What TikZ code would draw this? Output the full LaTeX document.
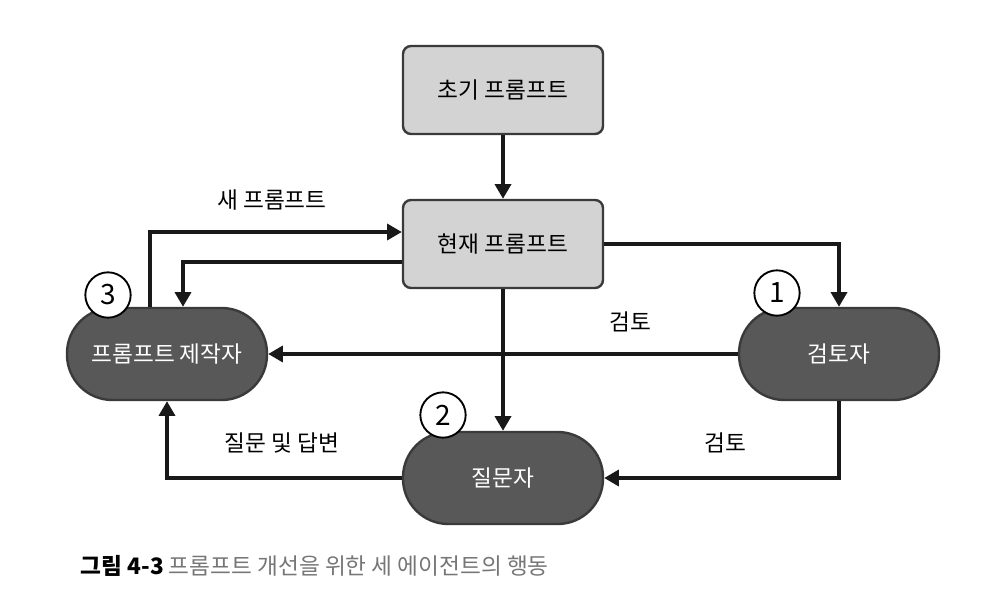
\documentclass[tikz,border=0pt]{standalone}
\usepackage{fontspec}
\setmainfont{Noto Sans CJK KR}
\usetikzlibrary{positioning, arrows.meta}
\definecolor{lightbox}{HTML}{D3D3D3}
\definecolor{darkbox}{HTML}{585858}
\definecolor{edge}{HTML}{3A3A3A}
\definecolor{capgray}{HTML}{767676}

\begin{document}
\begin{tikzpicture}[x=0.75pt,y=-0.75pt,>={Triangle[length=11pt,width=12pt]},font=\fontsize{17}{20}\selectfont]

	\tikzstyle{prompt}=[draw=edge,line width=1.8pt,fill=lightbox,rounded corners=6pt,minimum width=150pt,minimum height=66pt]
	\tikzstyle{agent}=[draw=edge,line width=1.8pt,fill=darkbox,text=white,rounded corners=34pt,minimum width=150pt,minimum height=69pt]
	\tikzstyle{num}=[draw=black,line width=1.4pt,fill=white,circle,minimum size=34pt,inner sep=0pt,font=\fontsize{21}{24}\selectfont]
	\tikzstyle{flow}=[line width=2.5pt,draw=black!90]

	\useasboundingbox (0,0) rectangle (984,616);

	\node[prompt] (init) at (503,90) {초기 프롬프트};
	\node[prompt] (cur) at (503,244) {현재 프롬프트};
	\node[agent] (maker) at (167,354) {프롬프트 제작자};
	\node[agent] (rev) at (839,354) {검토자};
	\node[agent] (ask) at (503,478) {질문자};

	\node[num] (n1) at (777,293) {1};
	\node[num] (n2) at (443,415) {2};
	\node[num] (n3) at (108,295) {3};

	\coordinate (up) at (150,232);
	\coordinate (down) at (183,262);

	\draw[flow,->] (init) -- (cur);
	\draw[flow,->] (cur) -- (ask);
	\draw[flow,->] (cur.east) -| (rev.north);
	\draw[flow,->] (rev) -- (maker);
	\draw[flow,->] (rev.south) |- (ask.east);
	\draw[flow,->] (ask.west) -| (maker.south);
	\draw[flow,->] (maker.north -| up) |- (cur.west |- up);
	\draw[flow,->] (cur.west |- down) -| (maker.north -| down);

	\node (lnew) at (272,200) {새 프롬프트};
	\node (lrev) at (630,322) {검토};
	\node (lrev2) at (725,443) {검토};
	\node (lqa) at (282,443) {질문 및 답변};

	\node[anchor=west,font=\fontsize{17}{20}\selectfont] (cap) at (76,566) {\textbf{그림 4-3} \textcolor{capgray}{프롬프트 개선을 위한 세 에이전트의 행동}};
\end{tikzpicture}
\end{document}
